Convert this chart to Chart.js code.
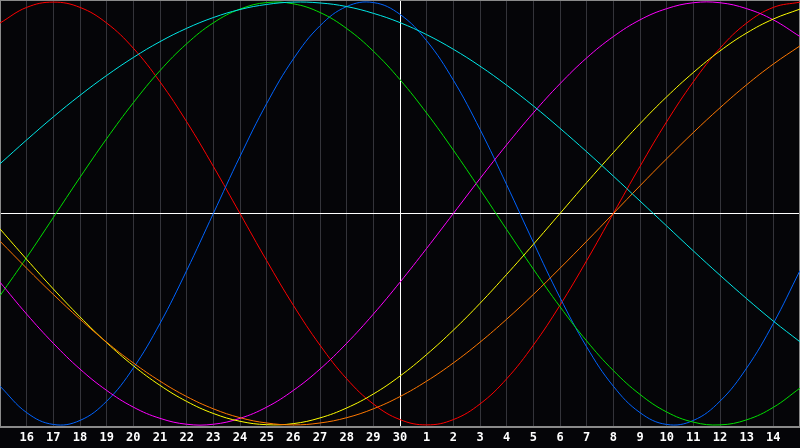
<!DOCTYPE html>
<html>
<head>
<meta charset="utf-8">
<script src="https://cdn.jsdelivr.net/npm/chart.js@4"></script>
<style>
  html, body { margin: 0; padding: 0; background: #050508; }
  #wrap { width: 800px; height: 448px; }
</style>
</head>
<body>
<div id="wrap"><canvas id="c" width="800" height="448"></canvas></div>
<script>
const days = ['15','16','17','18','19','20','21','22','23','24','25','26','27','28','29','30',
              '1','2','3','4','5','6','7','8','9','10','11','12','13','14','15'];

const red = [0.901,0.975,1.000,0.975,0.901,0.782,0.623,0.434,0.223,0,-0.223,-0.434,-0.623,-0.782,-0.901,-0.975,
             -1.000,-0.975,-0.901,-0.782,-0.623,-0.434,-0.223,0,0.223,0.434,0.623,0.782,0.901,0.975,1.000];
const blue = [-0.817,-0.942,-0.998,-0.979,-0.888,-0.731,-0.520,-0.270,0,0.270,0.520,0.731,0.888,0.979,0.998,0.942,
              0.817,0.631,0.398,0.136,-0.136,-0.398,-0.631,-0.817,-0.942,-0.998,-0.979,-0.888,-0.731,-0.520,-0.270];
const green = [-0.389,-0.208,-0.019,0.171,0.354,0.524,0.676,0.803,0.902,0.967,0.998,0.992,0.951,0.875,0.768,0.633,
               0.475,0.300,0.114,-0.076,-0.263,-0.441,-0.603,-0.743,-0.856,-0.939,-0.987,-1.000,-0.976,-0.917,-0.826];
const magenta = [-0.325,-0.476,-0.614,-0.736,-0.837,-0.916,-0.969,-0.997,-0.997,-0.969,-0.916,-0.837,-0.736,-0.614,-0.476,-0.325,
                 -0.165,0,0.165,0.325,0.476,0.614,0.736,0.837,0.916,0.969,0.997,0.997,0.969,0.916,0.837];
const yellow = [-0.073,-0.217,-0.357,-0.489,-0.611,-0.720,-0.813,-0.889,-0.946,-0.983,-0.999,-0.994,-0.967,-0.920,-0.854,-0.769,
                -0.667,-0.552,-0.425,-0.288,-0.146,0,0.146,0.288,0.425,0.552,0.667,0.769,0.854,0.920,0.967];
const orange = [-0.131,-0.259,-0.383,-0.500,-0.609,-0.707,-0.793,-0.866,-0.924,-0.966,-0.991,-1.000,-0.991,-0.966,-0.924,-0.866,
                -0.793,-0.707,-0.609,-0.500,-0.383,-0.259,-0.131,0,0.131,0.259,0.383,0.500,0.609,0.707,0.793];
const cyan = [0.235,0.348,0.457,0.559,0.653,0.738,0.813,0.876,0.927,0.965,0.989,1.000,0.996,0.979,0.947,0.903,
              0.846,0.777,0.697,0.607,0.509,0.403,0.292,0.177,0.059,-0.059,-0.177,-0.292,-0.403,-0.509,-0.607];

const series = [
  { data: cyan,    color: '#00e8e8' },
  { data: orange,  color: '#ff7800' },
  { data: yellow,  color: '#ffff00' },
  { data: magenta, color: '#ff00ff' },
  { data: green,   color: '#00e000' },
  { data: blue,    color: '#0064ff' },
  { data: red,     color: '#ff0000' }
];

const todayIndex = 15;

const frame = {
  id: 'frame',
  beforeDatasetsDraw(chart) {
    const { ctx, chartArea: a } = chart;
    ctx.save();
    ctx.strokeStyle = '#8a8a8a';
    ctx.lineWidth = 1;
    ctx.strokeRect(Math.round(a.left) + 0.5, Math.round(a.top) + 0.5,
                   Math.round(a.right - a.left) - 1, Math.round(a.bottom - a.top) - 1);
    ctx.restore();
  }
};

new Chart(document.getElementById('c'), {
  type: 'line',
  data: {
    labels: days,
    datasets: series.map(s => ({
      data: s.data,
      borderColor: s.color,
      borderWidth: 1,
      pointRadius: 0,
      pointHoverRadius: 0,
      tension: 0.4,
      fill: false
    }))
  },
  options: {
    responsive: false,
    animation: false,
    devicePixelRatio: 1,
    layout: { autoPadding: false, padding: 0 },
    plugins: { legend: { display: false }, tooltip: { enabled: false } },
    scales: {
      x: {
        offset: false,
        grid: {
          drawTicks: false,
          color: ctx => (ctx.index === todayIndex ? '#ffffff' : '#34343a'),
          lineWidth: 1
        },
        border: { display: true, color: '#8a8a8a' },
        ticks: {
          autoSkip: false,
          maxRotation: 0,
          minRotation: 0,
          padding: 0,
          color: '#ffffff',
          font: { family: 'DejaVu Sans Mono', weight: 'bold', size: 12, lineHeight: '21px' },
          callback: (v, i) => (i === 0 || i === days.length - 1) ? '' : days[i]
        }
      },
      y: {
        min: -1.01,
        max: 1.01,
        afterBuildTicks: s => { s.ticks = [{ value: 0 }]; },
        ticks: { display: false },
        grid: { drawTicks: false, color: '#ffffff', lineWidth: 1 },
        border: { display: false }
      }
    }
  },
  plugins: [frame]
});
</script>
</body>
</html>
